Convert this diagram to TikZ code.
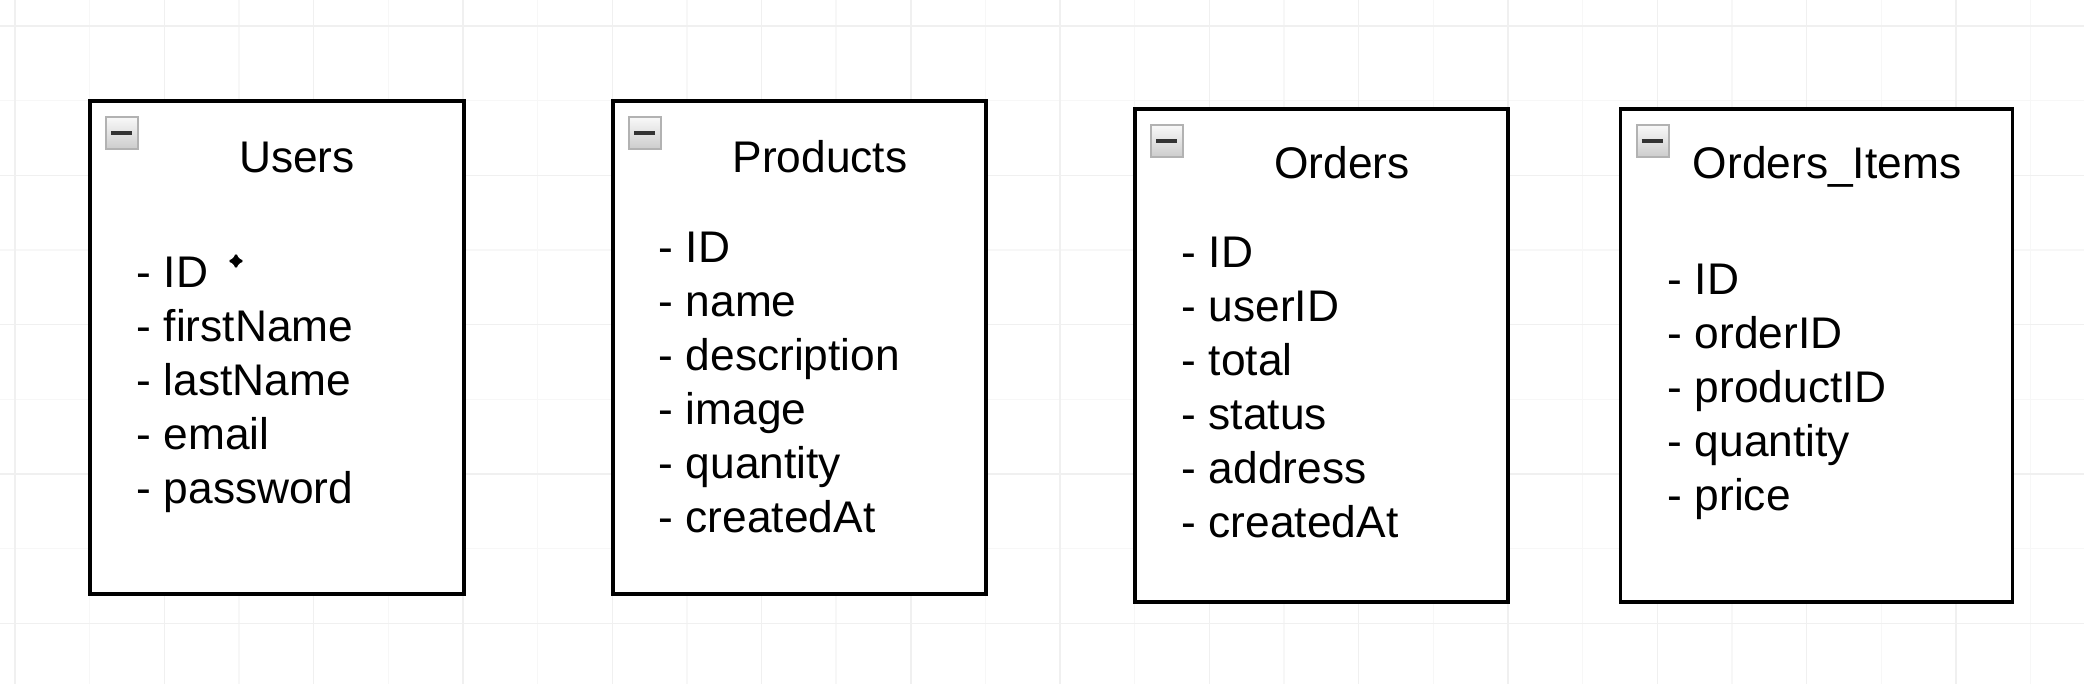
\documentclass[tikz,border=0pt]{standalone}
\usepackage{fontspec}
\setmainfont{Liberation Sans}
\usetikzlibrary{calc,arrows.meta}

\begin{document}
\begin{tikzpicture}[x=0.01cm, y=-0.01cm,
    tablebox/.style={draw=black, line width=1pt, fill=white, inner sep=0pt},
    tabletitle/.style={font=\fontsize{12.6pt}{15pt}\selectfont, anchor=base, inner sep=0pt},
    attrib/.style={font=\fontsize{12.6pt}{15pt}\selectfont, anchor=base west, inner sep=0pt},
    togglebox/.style={draw=gray!60, line width=0.6pt, top color=gray!5, bottom color=gray!40,
      minimum size=0.32cm, inner sep=0pt, anchor=north west},
    toggleminus/.style={line width=1.1pt, black!80},
    gridminor/.style={black!3, line width=0.4pt},
    gridmajor/.style={black!6, line width=0.4pt}]

  \useasboundingbox (0,0) rectangle (2084,684);
  \fill[white] (0,0) rectangle (2084,684);
  % faint canvas grid
  \foreach \k in {0,...,27} \draw[gridminor] (15+74.65*\k,0) -- (15+74.65*\k,684);
  \foreach \k in {0,...,8}  \draw[gridminor] (0,26+74.65*\k) -- (2084,26+74.65*\k);
  \foreach \k in {0,...,13} \draw[gridmajor] (15+149.3*\k,0) -- (15+149.3*\k,684);
  \foreach \k in {0,...,4}  \draw[gridmajor] (0,26+149.3*\k) -- (2084,26+149.3*\k);

  % tables
  \node[tablebox, minimum width=3.74cm, minimum height=4.93cm] (users)    at (277,347.5)    {};
  \node[tablebox, minimum width=3.73cm, minimum height=4.93cm] (products) at (799.5,347.5)  {};
  \node[tablebox, minimum width=3.73cm, minimum height=4.93cm] (orders)   at (1321.5,355.5) {};
  \node[tablebox, minimum width=3.92cm, minimum height=4.93cm] (items)    at (1816.5,355.5) {};

  % collapse buttons
  \foreach \t in {users,products,orders,items} {
    \node[togglebox] (\t-toggle) at ($(\t.north west)+(17,17)$) {};
    \draw[toggleminus] ($(\t-toggle.west)+(6,0)$) -- ($(\t-toggle.east)+(-7,0)$);
  }

  \node[tabletitle] (users-title)    at (297,172)  {Users};
  \node[tabletitle] (products-title) at (820,172)  {Products};
  \node[tabletitle] (orders-title)   at (1342,178) {Orders};
  \node[tabletitle] (items-title)    at (1827,178) {Orders\_Items};

  \foreach \a [count=\i from 0] in {ID,firstName,lastName,email,password}
    \node[attrib] (users-\i) at (136,287+54*\i) {- \a};
  \foreach \a [count=\i from 0] in {ID,name,description,image,quantity,createdAt}
    \node[attrib] (products-\i) at (658,262+54*\i) {- \a};
  \foreach \a [count=\i from 0] in {ID,userID,total,status,address,createdAt}
    \node[attrib] (orders-\i) at (1181,267+54*\i) {- \a};
  \foreach \a [count=\i from 0] in {ID,orderID,productID,quantity,price}
    \node[attrib] (items-\i) at (1667,294+54*\i) {- \a};

  % move cursor next to the first field
  \coordinate (cursor) at (236,261);
  \draw[line width=1pt, {Stealth[length=2.4pt,width=3.4pt]}-{Stealth[length=2.4pt,width=3.4pt]}]
    ($(cursor)+(-7,0)$) -- ($(cursor)+(7,0)$);
  \draw[line width=1pt, {Stealth[length=2.4pt,width=3.4pt]}-{Stealth[length=2.4pt,width=3.4pt]}]
    ($(cursor)+(0,-7)$) -- ($(cursor)+(0,7)$);
\end{tikzpicture}
\end{document}
